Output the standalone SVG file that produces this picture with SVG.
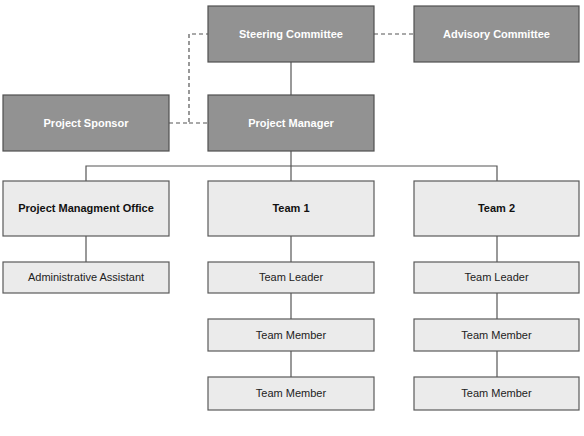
<svg xmlns="http://www.w3.org/2000/svg" width="584" height="436" viewBox="0 0 584 436">
<style>
.dark rect{fill:#929292;stroke:#505050;stroke-width:1.2}
.light rect{fill:#ebebeb;stroke:#5a5a5a;stroke-width:1.2}
text{font-family:"Liberation Sans",Arial,sans-serif;font-size:11px;text-anchor:middle;dominant-baseline:central}
.dark text{fill:#ffffff;font-weight:bold}
.light text{fill:#222}
.light.b text{font-weight:bold;fill:#111}
#connectors line,#connectors polyline{stroke:#555;stroke-width:1.2;fill:none}
#connectors .dash{stroke-dasharray:4,3}
</style>
<rect width="584" height="436" fill="#fff"/>
<g id="connectors">
<polyline class="dash" points="169,123 189,123 189,34 208,34"/>
<line class="dash" x1="189" y1="123" x2="208" y2="123"/>
<line class="dash" x1="374" y1="34" x2="414" y2="34"/>
<line x1="291" y1="62" x2="291" y2="95"/>
<line x1="291" y1="151" x2="291" y2="181"/>
<polyline points="86,181 86,166 497,166 497,181"/>
<line x1="86" y1="236" x2="86" y2="262"/>
<line x1="291" y1="236" x2="291" y2="262"/>
<line x1="291" y1="293" x2="291" y2="319"/>
<line x1="291" y1="351" x2="291" y2="377"/>
<line x1="497" y1="236" x2="497" y2="262"/>
<line x1="497" y1="293" x2="497" y2="319"/>
<line x1="497" y1="351" x2="497" y2="377"/>
</g>
<g id="steering" class="dark"><rect x="208" y="6" width="166" height="56"/><text x="291" y="34">Steering Committee</text></g>
<g id="advisory" class="dark"><rect x="414" y="6" width="165" height="56"/><text x="496.5" y="34">Advisory Committee</text></g>
<g id="sponsor" class="dark"><rect x="3" y="95" width="166" height="56"/><text x="86" y="123">Project Sponsor</text></g>
<g id="manager" class="dark"><rect x="208" y="95" width="166" height="56"/><text x="291" y="123">Project Manager</text></g>
<g id="pmo" class="light b"><rect x="3" y="181" width="166" height="55"/><text x="86" y="208">Project Managment Office</text></g>
<g id="team1" class="light b"><rect x="208" y="181" width="166" height="55"/><text x="291" y="208">Team 1</text></g>
<g id="team2" class="light b"><rect x="414" y="181" width="165" height="55"/><text x="496.5" y="208">Team 2</text></g>
<g id="admin" class="light"><rect x="3" y="262" width="166" height="31"/><text x="86" y="277">Administrative Assistant</text></g>
<g id="leader1" class="light"><rect x="208" y="262" width="166" height="31"/><text x="291" y="277">Team Leader</text></g>
<g id="leader2" class="light"><rect x="414" y="262" width="165" height="31"/><text x="496.5" y="277">Team Leader</text></g>
<g id="member1a" class="light"><rect x="208" y="319" width="166" height="32"/><text x="291" y="335">Team Member</text></g>
<g id="member2a" class="light"><rect x="414" y="319" width="165" height="32"/><text x="496.5" y="335">Team Member</text></g>
<g id="member1b" class="light"><rect x="208" y="377" width="166" height="33"/><text x="291" y="393">Team Member</text></g>
<g id="member2b" class="light"><rect x="414" y="377" width="165" height="33"/><text x="496.5" y="393">Team Member</text></g>
</svg>
